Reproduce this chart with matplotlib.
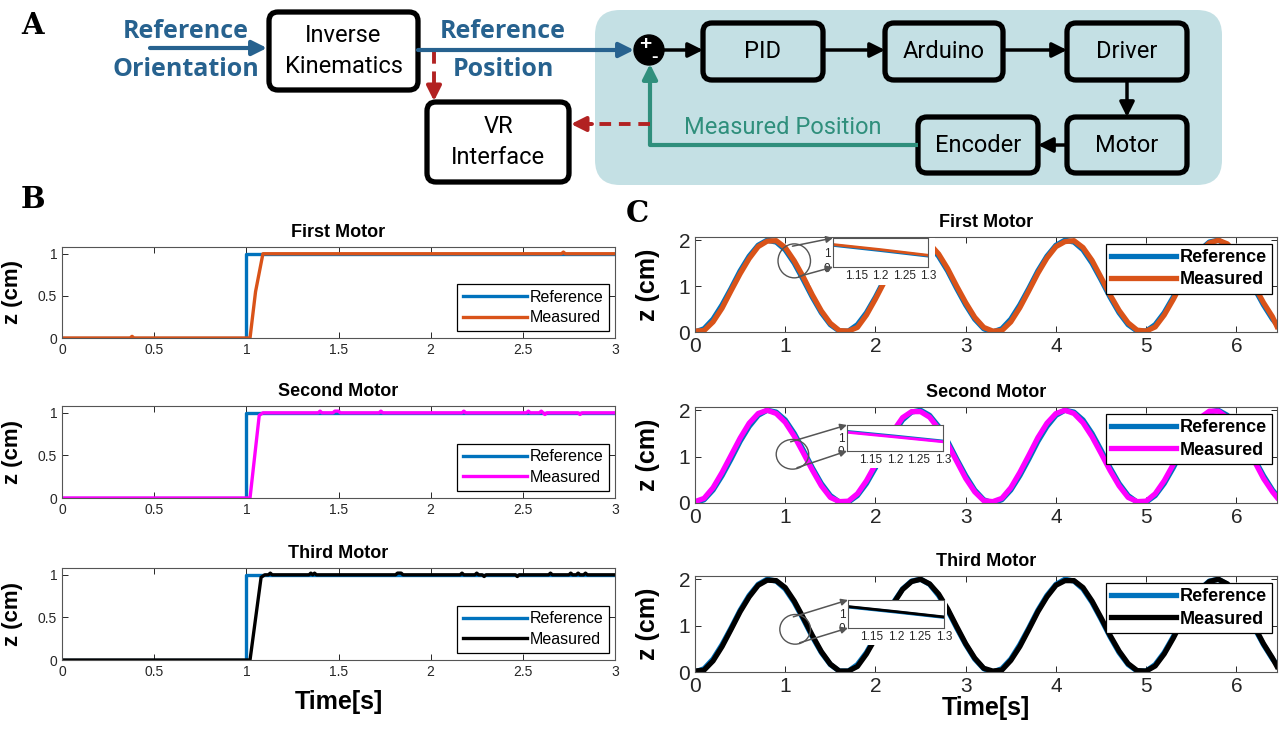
import numpy as np
import matplotlib
matplotlib.use('Agg')
import matplotlib.pyplot as plt
from matplotlib.patches import FancyBboxPatch, Circle, Ellipse, Rectangle

plt.rcParams['font.family'] = ['Liberation Sans', 'DejaVu Sans']

# ---- data ----
motor_titles = ['First Motor', 'Second Motor', 'Third Motor']
measured_colors = ['#D95319', '#FF00FF', 'black']
ref_color = '#0072BD'

# step responses (panel B)
step_ref_t = [0, 1.0, 1.0, 3.0]
step_ref_z = [0, 0, 1, 1]
step_m1_t = [0, 0.37, 0.38, 0.39, 1.02, 1.05, 1.09, 2.71, 2.72, 2.73, 3.0]
step_m1_z = [0, 0, 0.02, 0, 0, 0.55, 1.0, 1.0, 1.02, 1.0, 1.0]
step_m2_t = [0, 1.02, 1.07, 1.09, 1.39, 1.40, 1.41, 1.47, 1.48, 1.50, 1.51, 1.72, 1.73, 1.74,
             2.17, 2.18, 2.19, 2.52, 2.53, 2.54, 2.59, 2.60, 2.61, 2.62, 2.63, 2.80, 2.81, 2.82, 3.0]
step_m2_z = [0, 0, 0.97, 1.0, 1.0, 1.02, 1.0, 1.0, 1.02, 1.02, 1.0, 1.0, 1.02, 1.0,
             1.0, 1.02, 1.0, 1.0, 1.02, 1.0, 1.0, 1.02, 1.0, 0.98, 1.0, 1.0, 0.98, 1.0, 1.0]
step_m3_t = [0, 1.02, 1.08, 1.10, 1.12, 1.13, 1.14, 1.34, 1.35, 1.36, 1.37, 1.38, 1.81, 1.82, 1.84, 1.85,
             2.16, 2.17, 2.18, 2.24, 2.25, 2.26, 2.28, 2.29, 2.30, 2.46, 2.47, 2.48, 2.64, 2.65, 2.66,
             2.75, 2.76, 2.77, 2.79, 2.80, 2.81, 2.83, 2.84, 2.85, 3.0]
step_m3_z = [0, 0, 0.97, 1.0, 1.0, 1.02, 1.0, 1.0, 1.02, 1.0, 1.02, 1.0, 1.0, 1.02, 1.02, 1.0,
             1.0, 1.02, 1.0, 1.0, 1.02, 1.0, 1.0, 0.98, 1.0, 1.0, 0.98, 1.0, 1.0, 1.02, 1.0,
             1.0, 1.02, 1.0, 1.0, 1.02, 1.0, 1.0, 1.02, 1.0, 1.0]
step_measured = [(step_m1_t, step_m1_z), (step_m2_t, step_m2_z), (step_m3_t, step_m3_z)]

sine_t = np.append(np.arange(0, 6.41, 0.1), 6.45)
sine_ref = [0.00, 0.07, 0.28, 0.59, 0.95, 1.33, 1.65, 1.89, 2.00, 1.96, 1.79, 1.50, 1.14, 0.76, 0.42, 0.16, 0.02,
            0.02, 0.16, 0.42, 0.76, 1.14, 1.50, 1.79, 1.96, 2.00, 1.89, 1.65, 1.33, 0.95, 0.59, 0.28, 0.07,
            0.00, 0.07, 0.28, 0.59, 0.95, 1.33, 1.65, 1.89, 2.00, 1.96, 1.79, 1.50, 1.14, 0.76, 0.42, 0.16, 0.02,
            0.02, 0.16, 0.42, 0.76, 1.14, 1.50, 1.79, 1.96, 2.00, 1.89, 1.65, 1.33, 0.95, 0.59, 0.28, 0.16]
sine_m1 = [0.02, 0.03, 0.22, 0.52, 0.90, 1.27, 1.60, 1.86, 1.98, 1.99, 1.84, 1.55, 1.20, 0.81, 0.46, 0.19, 0.03,
           0.02, 0.10, 0.37, 0.72, 1.10, 1.46, 1.76, 1.95, 2.00, 1.92, 1.70, 1.38, 1.00, 0.64, 0.32, 0.10,
           0.02, 0.03, 0.22, 0.53, 0.90, 1.28, 1.61, 1.86, 1.97, 1.99, 1.84, 1.56, 1.19, 0.81, 0.47, 0.20, 0.04,
           0.02, 0.11, 0.37, 0.71, 1.09, 1.46, 1.76, 1.94, 2.00, 1.92, 1.70, 1.38, 1.00, 0.64, 0.33, 0.12]
sine_m2 = [0.03, 0.10, 0.33, 0.66, 1.03, 1.40, 1.72, 1.93, 2.00, 1.93, 1.74, 1.44, 1.08, 0.71, 0.37, 0.12, 0.03,
           0.04, 0.20, 0.48, 0.83, 1.20, 1.56, 1.84, 1.97, 1.97, 1.85, 1.60, 1.27, 0.90, 0.53, 0.24, 0.05,
           0.03, 0.10, 0.33, 0.66, 1.03, 1.41, 1.72, 1.93, 2.00, 1.93, 1.73, 1.43, 1.07, 0.70, 0.37, 0.12, 0.03,
           0.04, 0.20, 0.48, 0.83, 1.21, 1.56, 1.84, 1.98, 1.98, 1.84, 1.60, 1.27, 0.90, 0.53, 0.24, 0.12]
sine_m3 = [0.02, 0.04, 0.24, 0.55, 0.92, 1.30, 1.62, 1.87, 1.98, 1.97, 1.82, 1.53, 1.17, 0.79, 0.44, 0.17, 0.02,
           0.02, 0.12, 0.39, 0.73, 1.11, 1.48, 1.78, 1.95, 2.00, 1.90, 1.68, 1.36, 0.98, 0.61, 0.30, 0.08,
           0.02, 0.04, 0.25, 0.55, 0.92, 1.30, 1.62, 1.87, 1.97, 1.97, 1.82, 1.53, 1.17, 0.79, 0.45, 0.18, 0.03,
           0.02, 0.13, 0.39, 0.73, 1.11, 1.48, 1.78, 1.95, 2.00, 1.90, 1.68, 1.36, 0.98, 0.61, 0.30, 0.12]
sine_measured = [sine_m1, sine_m2, sine_m3]

step_xticks = [0, 0.5, 1, 1.5, 2, 2.5, 3]
step_xticklabels = ['0', '0.5', '1', '1.5', '2', '2.5', '3']
step_yticklabels = ['0', '0.5', '1']
inset_xticks = [1.15, 1.2, 1.25, 1.3]
inset_xticklabels = ['1.15', '1.2', '1.25', '1.3']

# ---- layout (pixels) ----
W, H = 1286, 730


def fbox(x0, y0, x1, y1):
    return [x0 / W, 1 - y1 / H, (x1 - x0) / W, (y1 - y0) / H]


b_boxes = [(62, 247, 615, 338), (62, 406, 615, 498), (62, 568, 615, 660)]
c_boxes = [(695, 237, 1277, 332), (695, 407, 1277, 503), (695, 576, 1277, 672)]
inset_boxes = [(833, 238, 928, 267), (847, 425, 943, 451), (848, 600, 944, 628)]
white_boxes = [(810, 238, 935, 285), (824, 425, 950, 468), (825, 600, 947, 645)]
zoom_circles = [(1.10, 1.55, 0.36, 0.74), (1.08, 1.05, 0.36, 0.64), (1.11, 0.92, 0.34, 0.64)]

fig = plt.figure(figsize=(W / 100, H / 100), dpi=100)

# ---- panel A: block diagram ----
dg = fig.add_axes([0, 0, 1, 1])
dg.set_xlim(0, W)
dg.set_ylim(H, 0)
dg.axis('off')

blue = '#27628f'
green = '#2f8f7c'
red = '#b22222'
dfont = 'Roboto'

dg.add_patch(FancyBboxPatch((595, 10), 627, 175, boxstyle='round,pad=0,rounding_size=25',
                            fc='#c4e0e4', ec='none'))


def block(x0, y0, x1, y1, txt, fill='none'):
    dg.add_patch(FancyBboxPatch((x0, y0), x1 - x0, y1 - y0, boxstyle='round,pad=0,rounding_size=9',
                                fc=fill, ec='black', lw=3.8))
    dg.text((x0 + x1) / 2, (y0 + y1) / 2, txt, ha='center', va='center', fontsize=17,
            family=dfont, linespacing=1.45)


def arrow(p0, p1, color='black', lw=2.5, ls='-'):
    dg.annotate('', xy=p1, xytext=p0,
                arrowprops=dict(arrowstyle='-|>', color=color, lw=lw, ls=ls, mutation_scale=22,
                                shrinkA=0, shrinkB=0))


block(269, 12, 418, 90, 'Inverse\nKinematics', fill='white')
block(427, 102, 569, 182, 'VR\nInterface', fill='white')
block(703, 23, 823, 80, 'PID')
block(885, 23, 1003, 80, 'Arduino')
block(1067, 23, 1187, 80, 'Driver')
block(1067, 117, 1187, 173, 'Motor')
block(918, 117, 1038, 173, 'Encoder')

for txt, yy in [('Reference', 31), ('Orientation', 69)]:
    dg.text(186, yy, txt, color=blue, fontsize=18, fontweight='bold', family='Open Sans',
            ha='center', va='center')
for txt, yy in [('Reference', 31), ('Position', 69)]:
    dg.text(503, yy, txt, color=blue, fontsize=18, fontweight='bold', family='Open Sans',
            ha='center', va='center')

arrow((150, 48), (267, 48), color=blue, lw=3)
arrow((418, 50), (634, 50), color=blue, lw=3)
arrow((663, 50), (703, 50))
arrow((823, 50), (885, 50))
arrow((1003, 50), (1067, 50))
arrow((1127, 80), (1127, 117))
arrow((1067, 145), (1038, 145))

# feedback path
dg.plot([918, 650, 650], [145, 145, 80], color=green, lw=3, solid_capstyle='butt')
arrow((650, 82), (650, 64), color=green, lw=3)
dg.text(783, 128, 'Measured Position', color=green, fontsize=17, family=dfont,
        ha='center', va='center')

# VR dashed links
dg.plot([650, 590], [124, 124], color=red, lw=2.8, ls=(0, (3, 2)))
arrow((592, 124), (571, 124), color=red, lw=2.8)
dg.plot([434, 434], [52, 88], color=red, lw=2.8, ls=(0, (3, 2)))
arrow((434, 86), (434, 101), color=red, lw=2.8)

# summing junction
dg.add_patch(Circle((649, 50), 15, fc='black', ec='black'))
dg.text(645, 45, '+', color='white', fontsize=15, fontweight='bold', ha='center', va='center')
dg.text(654, 57, '-', color='white', fontsize=14, fontweight='bold', ha='center', va='center')

for lab, xx, yy in [('A', 33, 25), ('B', 33, 200), ('C', 637, 214)]:
    dg.text(xx, yy, lab, fontsize=21, fontweight='bold', family='DejaVu Serif',
            ha='center', va='center')

# ---- panel B: step responses ----
for i, box in enumerate(b_boxes):
    ax = fig.add_axes(fbox(*box))
    ax.plot(step_ref_t, step_ref_z, color=ref_color, lw=2.4, label='Reference')
    mt, mz = step_measured[i]
    ax.plot(mt, mz, color=measured_colors[i], lw=2.4, label='Measured')
    ax.set_xlim(0, 3)
    ax.set_ylim(0, 1.08)
    ax.set_xticks(step_xticks)
    ax.set_xticklabels(step_xticklabels)
    ax.set_yticks([0, 0.5, 1])
    ax.set_yticklabels(step_yticklabels)
    ax.tick_params(direction='in', top=True, right=True, labelsize=10, length=4,
                   colors='#262626', width=0.7)
    for s in ax.spines.values():
        s.set_color('#555555')
        s.set_linewidth(0.8)
    ax.set_title(motor_titles[i], fontsize=13, fontweight='bold', pad=7)
    ax.set_ylabel('z (cm)', fontsize=16, fontweight='bold')
    ax.yaxis.set_label_coords(-0.07, 0.5)
    leg = ax.legend(loc='lower right', bbox_to_anchor=(0.99, 0.08), borderaxespad=0,
                    fontsize=11.5, handlelength=4, fancybox=False, framealpha=1,
                    edgecolor='black', borderpad=0.35, labelspacing=0.35, handletextpad=0.2)
    leg.get_frame().set_linewidth(0.9)
    if i == 2:
        ax.set_xlabel('Time[s]', fontsize=18, fontweight='bold', labelpad=8)

# ---- panel C: sinusoidal tracking with zoom insets ----
for i, box in enumerate(c_boxes):
    ax = fig.add_axes(fbox(*box))
    ax.plot(sine_t, sine_ref, color=ref_color, lw=3.8, label='Reference')
    ax.plot(sine_t, sine_measured[i], color=measured_colors[i], lw=3.8, label='Measured')
    ax.set_xlim(0, 6.45)
    ax.set_ylim(0, 2.07)
    ax.set_xticks(range(7))
    ax.set_yticks([0, 1, 2])
    ax.tick_params(direction='in', top=True, right=True, labelsize=15, length=4,
                   colors='#262626', width=0.7)
    for s in ax.spines.values():
        s.set_color('#555555')
        s.set_linewidth(0.8)
    ax.set_title(motor_titles[i], fontsize=13, fontweight='bold', pad=7)
    ax.set_ylabel('z (cm)', fontsize=18, fontweight='bold')
    ax.yaxis.set_label_coords(-0.06, 0.5)
    leg = ax.legend(loc='upper right', bbox_to_anchor=(0.992, 0.93), borderaxespad=0,
                    prop={'size': 13, 'weight': 'bold'}, handlelength=3.6, fancybox=False,
                    framealpha=1, edgecolor='black', borderpad=0.3, labelspacing=0.3,
                    handletextpad=0.2)
    leg.get_frame().set_linewidth(0.9)
    if i == 2:
        ax.set_xlabel('Time[s]', fontsize=18, fontweight='bold', labelpad=0)

    # white background behind the inset and its labels
    wx0, wy0, wx1, wy1 = white_boxes[i]
    ax.add_patch(Rectangle((wx0 / W, 1 - wy1 / H), (wx1 - wx0) / W, (wy1 - wy0) / H,
                           transform=fig.transFigure, fc='white', ec='none', zorder=3))

    cx, cy, cw, ch = zoom_circles[i]
    ax.add_patch(Ellipse((cx, cy), cw, ch, fill=False, ec='#555555', lw=1.0, zorder=6))

    axi = fig.add_axes(fbox(*inset_boxes[i]))
    axi.plot(sine_t, sine_ref, color=ref_color, lw=2.2)
    axi.plot(sine_t, sine_measured[i], color=measured_colors[i], lw=2.0)
    axi.set_xlim(1.1, 1.3)
    axi.set_ylim(0, 2)
    axi.set_xticks(inset_xticks)
    axi.set_xticklabels(inset_xticklabels)
    axi.set_yticks([0, 1])
    axi.tick_params(direction='in', labelsize=8.5, length=0, pad=2, colors='#262626')
    for s in axi.spines.values():
        s.set_color('#555555')
        s.set_linewidth(0.8)
    aprops = dict(arrowstyle='-|>', color='#555555', lw=1.1, mutation_scale=10,
                  shrinkA=0, shrinkB=0)
    axi.annotate('', xy=(0, 1), xycoords='axes fraction', xytext=(cx - 0.02, cy + ch / 2 - 0.05),
                 textcoords=ax.transData, arrowprops=aprops, annotation_clip=False)
    axi.annotate('', xy=(0, 0), xycoords='axes fraction', xytext=(cx + 0.05, cy - ch / 2 + 0.03),
                 textcoords=ax.transData, arrowprops=aprops, annotation_clip=False)

fig.savefig('out.png', dpi=100)
